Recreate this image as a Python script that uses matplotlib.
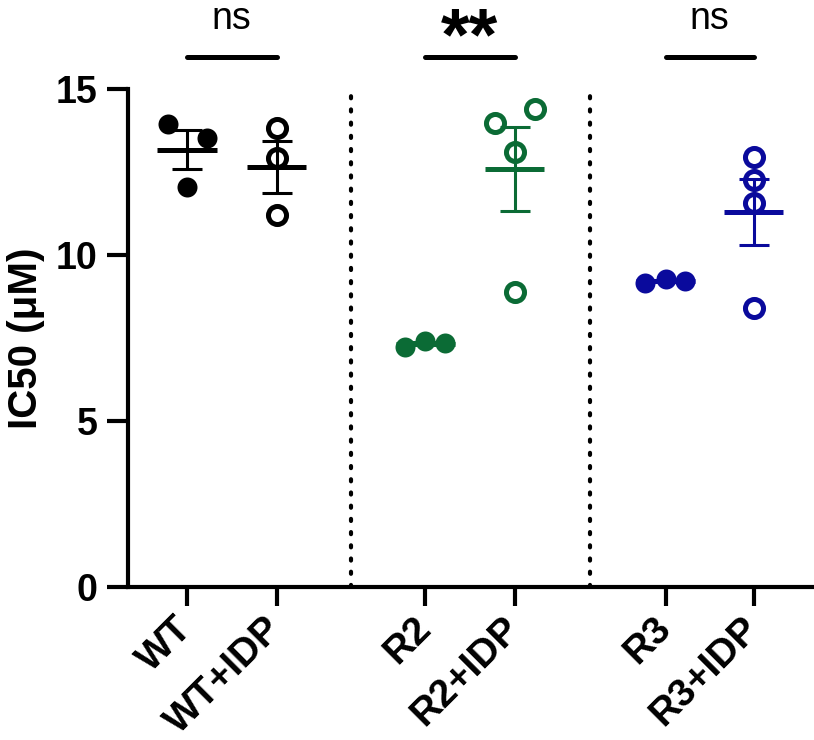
import matplotlib
matplotlib.use("Agg")
import matplotlib.pyplot as plt
import matplotlib.transforms as mtransforms
import numpy as np

plt.rcParams['font.family'] = ['Liberation Sans', 'DejaVu Sans']

# group names and read-off IC50 values (uM)
groups = ["WT", "WT+IDP", "R2", "R2+IDP", "R3", "R3+IDP"]
wt = [13.95, 13.52, 12.05]
wt_idp = [13.83, 12.92, 11.20]
r2 = [7.23, 7.41, 7.35]
r2_idp = [13.98, 14.40, 13.10, 8.89]
r3 = [9.17, 9.28, 9.23]
r3_idp = [12.95, 12.26, 11.57, 8.40]
sig_labels = ["ns", "**", "ns"]

values = [wt, wt_idp, r2, r2_idp, r3, r3_idp]

# layout
xpos = [0, 1, 2.66, 3.66, 5.35, 6.33]
jitter = [[-0.21, 0.22, 0], [0, 0, 0], [-0.22, 0, 0.22],
          [-0.22, 0.23, 0, 0], [-0.23, 0, 0.21], [0, 0, 0, 0]]
green = "#0B6B35"
blue = "#0A0A9C"
colors = ["black", "black", green, green, blue, blue]
filled = [True, False, True, False, True, False]

fig = plt.figure(figsize=(8.14, 7.4), dpi=100)
ax = fig.add_axes([0.1572, 0.2068, 0.840, 0.673])

for i, vals in enumerate(values):
	v = np.array(vals)
	m = v.mean()
	sem = v.std(ddof=1)/np.sqrt(len(v))
	c = colors[i]
	x0 = xpos[i]
	ax.plot([x0-0.33, x0+0.33], [m, m], color=c, lw=3.6, solid_capstyle='butt', zorder=2)
	ax.errorbar([x0], [m], yerr=[sem], fmt='none', ecolor=c, elinewidth=2.2,
		capsize=11, capthick=2.2, zorder=2)
	xs = [x0+j for j in jitter[i]]
	if filled[i]:
		ax.plot(xs, vals, 'o', color=c, ms=14.4, mew=0, zorder=3, clip_on=False)
	else:
		ax.plot(xs, vals, 'o', mfc='none', mec=c, ms=13, mew=3.6, zorder=3, clip_on=False)

# dotted separators
for xd in [(xpos[1]+xpos[2])/2, (xpos[3]+xpos[4])/2]:
	ax.plot([xd, xd], [0, 15], color='black', lw=3, linestyle=(0, (0.5, 2.67)),
		dash_capstyle='round', clip_on=False, zorder=1)

# significance bars
for k in range(3):
	xa, xb = xpos[2*k], xpos[2*k+1]
	ax.plot([xa, xb], [15.96, 15.96], color='black', lw=3.6, solid_capstyle='round', clip_on=False)
	if sig_labels[k] == "ns":
		ax.text((xa+xb)/2, 16.8, "ns", ha='center', va='baseline', fontsize=27)
	else:
		ax.text((xa+xb)/2, 15.88, "**", ha='center', va='baseline', fontsize=53, fontweight='bold')

ax.set_xlim(-0.66, 6.98)
ax.set_ylim(0, 15)
ax.set_yticks([0, 5, 10, 15])
ax.set_xticks(xpos)
ax.set_xticklabels(groups, rotation=45, ha='right', va='center', rotation_mode='anchor',
	fontsize=28, fontweight='bold')
shift = mtransforms.ScaledTranslation(10/100, 0, fig.dpi_scale_trans)
for lab in ax.get_xticklabels():
	lab.set_transform(lab.get_transform() + shift)
for lab in ax.get_yticklabels():
	lab.set_fontweight('bold')
ax.tick_params(axis='y', length=15, width=3, labelsize=27, pad=7)
ax.tick_params(axis='x', length=14, width=3, pad=12)
ax.spines['top'].set_visible(False)
ax.spines['right'].set_visible(False)
ax.spines['left'].set_linewidth(3)
ax.spines['bottom'].set_linewidth(3)
ax.set_ylabel("IC50 (μM)", fontsize=29, fontweight='bold', labelpad=8)

plt.savefig("out.png", dpi=100)
